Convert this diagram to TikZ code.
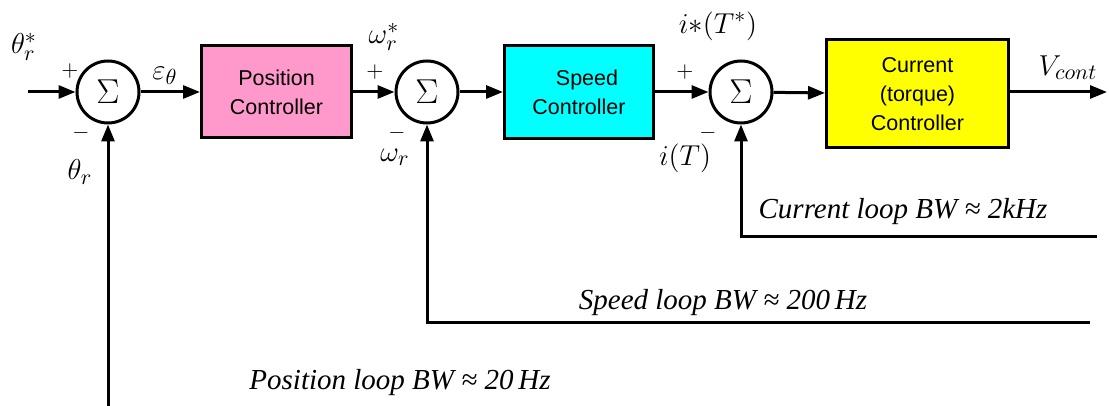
\documentclass[tikz,border=0pt]{standalone}
\usepackage{fontspec}
\setmainfont{Liberation Serif}
\setsansfont{Liberation Sans}
\usetikzlibrary{arrows.meta}
\definecolor{pospink}{RGB}{255,153,204}
\definecolor{spdcyan}{RGB}{0,255,255}
\definecolor{curyellow}{RGB}{255,255,0}
\tikzset{
  sumnode/.style={circle,draw,line width=1.5pt,minimum size=31pt,inner sep=0pt,font=\fontsize{18}{18}\selectfont},
  ctrlbox/.style={draw,line width=1.5pt,align=center,inner sep=0pt,font=\sffamily\fontsize{10.75}{14.5}\selectfont},
  sig/.style={line width=1.5pt,-{Triangle[length=8.5pt,width=6.5pt]}},
  fb/.style={line width=1.5pt},
  lbl/.style={inner sep=0pt,font=\fontsize{15}{17}\selectfont},
  sgn/.style={inner sep=0pt,font=\fontsize{11}{13}\selectfont},
  bwtext/.style={inner sep=0pt,font=\itshape\fontsize{14.5}{16}\selectfont}
}
\begin{document}
\begin{tikzpicture}[x=0.5pt,y=-0.5pt]
  \useasboundingbox (0,0) rectangle (1109,406);
  % blocks
  \node[sumnode] (sum1) at (108,92) {$\Sigma$};
  \node[ctrlbox,fill=pospink,minimum width=75pt,minimum height=46pt] (posctrl) at (276.5,92) {Position\\Controller};
  \node[sumnode] (sum2) at (427,92) {$\Sigma$};
  \node[ctrlbox,fill=spdcyan,minimum width=74.5pt,minimum height=46.5pt] (spdctrl) at (579,92) {\hspace*{8pt}Speed\\Controller};
  \node[sumnode] (sum3) at (741,92) {$\Sigma$};
  \node[ctrlbox,fill=curyellow,minimum width=91pt,minimum height=54pt] (curctrl) at (917.5,94) {Current\\(torque)\\Controller};
  \coordinate (in) at (28,92);
  \coordinate (out) at (1107,92);
  \coordinate (fbpos) at (108,406);
  \coordinate (fbspd) at (1090,323);
  \coordinate (fbcur) at (1097,237);
  % forward path
  \draw[sig] (in) -- (sum1);
  \draw[sig] (sum1) -- (posctrl);
  \draw[sig] (posctrl) -- (sum2);
  \draw[sig] (sum2) -- (spdctrl);
  \draw[sig] (spdctrl) -- (sum3);
  \draw[sig] (sum3) -- (curctrl);
  \draw[sig] (curctrl.east |- out) -- (out);
  % feedback paths
  \draw[sig] (fbpos) -- (sum1.south);
  \draw[sig] (fbspd) -| (sum2.south);
  \draw[sig] (fbcur) -| (sum3.south);
  % signal labels
  \node[lbl] (thref) at (24,47) {$\theta_r^*$};
  \node[lbl] (thfb) at (80,172) {$\theta_r$};
  \node[lbl] (eps) at (165,76) {$\varepsilon_\theta$};
  \node[lbl] (wref) at (384,37) {$\omega_r^*$};
  \node[lbl] (wfb) at (395,157) {$\omega_r$};
  \node[lbl] (iref) at (718,26) {$i{*}(T^*)$};
  \node[lbl] (ifb) at (685,158) {$i(T)$};
  \node[lbl] (vout) at (1068,68) {$V_{cont}$};
  % signs
  \node[sgn] (p1) at (70,71) {$+$};
  \node[sgn] (m1) at (81,133) {$-$};
  \node[sgn] (p2) at (375,72) {$+$};
  \node[sgn] (m2) at (397,133) {$-$};
  \node[sgn] (p3) at (685,72) {$+$};
  \node[sgn] (m3) at (708,133) {$-$};
  % loop bandwidths
  \node[bwtext] (bwcur) at (903,212) {Current loop BW ≈ 2kHz};
  \node[bwtext] (bwspd) at (723,303) {Speed loop BW ≈ 200\,Hz};
  \node[bwtext] (bwpos) at (400,383) {Position loop BW ≈ 20\,Hz};
\end{tikzpicture}
\end{document}
